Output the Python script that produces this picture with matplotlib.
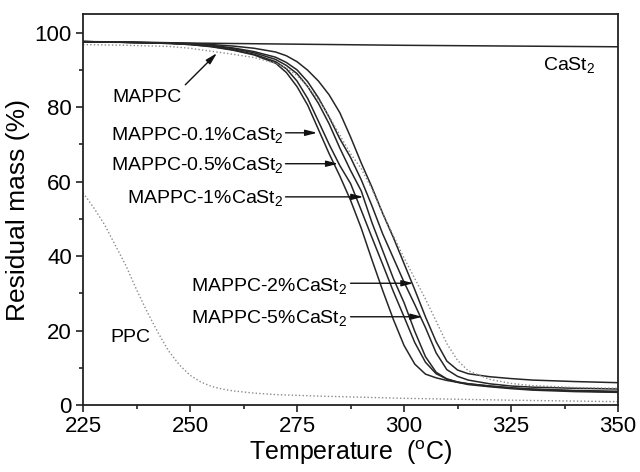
import matplotlib
matplotlib.use("Agg")
import matplotlib.pyplot as plt

plt.rcParams['font.family'] = ['Liberation Sans', 'DejaVu Sans']
plt.rcParams['mathtext.fontset'] = 'custom'
plt.rcParams['mathtext.rm'] = 'Liberation Sans'
plt.rcParams['mathtext.it'] = 'Liberation Sans:italic'
plt.rcParams['mathtext.default'] = 'regular'

# ---- data ----
temp = [225, 235, 245, 250, 255, 260, 265, 270, 272.5, 275, 277.5, 280, 282.5, 285,
        287.5, 290, 292.5, 295, 297.5, 300, 302.5, 305, 307.5, 310, 312.5, 315,
        320, 325, 330, 340, 350]

mappc_01 = [97.6, 97.4, 97.1, 96.8, 96.2, 95.3, 94.0, 91.8, 89.3, 85.5, 80.5, 74.0, 67.5, 61.5,
            55.0, 47.5, 39.0, 30.8, 23.0, 16.0, 11.0, 8.3, 7.3, 6.6, 6.1, 5.7,
            5.1, 4.6, 4.2, 3.8, 3.5]
mappc_05 = [97.6, 97.4, 97.1, 96.8, 96.3, 95.4, 94.2, 92.2, 90.3, 87.0, 82.3, 76.2, 70.0, 64.3,
            59.5, 52.3, 45.0, 37.8, 30.5, 23.7, 16.8, 11.5, 8.4, 7.0, 6.2, 5.7,
            5.1, 4.6, 4.3, 3.9, 3.7]
mappc_1 = [97.6, 97.4, 97.2, 96.9, 96.5, 95.7, 94.6, 92.8, 91.2, 89.0, 85.5, 81.0, 75.5, 69.0,
           63.0, 57.5, 49.0, 41.5, 34.0, 27.5, 19.8, 13.0, 8.8, 7.0, 6.1, 5.5,
           4.9, 4.4, 4.0, 3.6, 3.4]
mappc_2 = [97.6, 97.4, 97.2, 97.0, 96.6, 95.9, 94.9, 93.4, 92.0, 90.0, 86.8, 82.5, 77.3, 71.5,
           66.5, 60.5, 53.5, 46.0, 39.5, 33.0, 27.0, 20.8, 14.0, 9.5, 7.7, 6.7,
           5.7, 5.1, 4.8, 4.5, 4.3]
mappc_5 = [97.6, 97.5, 97.3, 97.1, 96.8, 96.4, 95.8, 94.8, 93.8, 92.2, 89.9, 87.0, 83.3, 78.5,
           72.0, 65.0, 58.5, 51.5, 45.0, 38.0, 31.0, 23.7, 17.0, 11.8, 9.4, 8.4,
           7.6, 7.1, 6.7, 6.3, 6.0]
mappc = [96.8, 96.6, 96.3, 95.8, 95.0, 94.2, 93.3, 91.8, 90.5, 88.5, 85.5, 82.0, 77.5, 72.5,
         67.5, 63.5, 58.0, 51.5, 45.5, 39.5, 34.0, 28.5, 22.5, 16.5, 12.0, 9.2,
         6.9, 5.8, 5.2, 4.7, 4.5]

casta_temp = [225, 250, 275, 300, 325, 350]
casta = [97.5, 97.2, 96.9, 96.6, 96.4, 96.2]

ppc_temp = [225, 227.5, 230, 232.5, 235, 237.5, 240, 242.5, 245, 247.5, 250, 252.5,
            255, 257.5, 260, 265, 270, 280, 290, 300, 325, 350]
ppc = [57, 53, 48.5, 43, 37.5, 31, 25, 19.5, 14.5, 10.8, 8.0, 6.2,
       5.0, 4.3, 3.8, 3.2, 2.8, 2.4, 2.1, 1.8, 1.3, 0.9]

# ---- figure ----
fig = plt.figure(figsize=(6.4, 4.72), dpi=100)
ax = fig.add_axes([0.1297, 0.1419, 0.836, 0.8284])

solid_kw = dict(color='#262626', lw=1.1)
for s in (mappc_01, mappc_05, mappc_1, mappc_2, mappc_5):
    ax.plot(temp, s, **solid_kw)
ax.plot(casta_temp, casta, **solid_kw)
dot_kw = dict(color='#8a8a8a', lw=1.0, linestyle=(0, (1, 1.6)))
ax.plot(temp, mappc, **dot_kw)
ax.plot(ppc_temp, ppc, **dot_kw)

ax.set_xlim(225, 350)
ax.set_ylim(0, 105)
ax.set_xticks([225, 250, 275, 300, 325, 350])
ax.set_xticks([237.5, 262.5, 287.5, 312.5, 337.5], minor=True)
ax.set_yticks([0, 20, 40, 60, 80, 100])
ax.set_yticks([10, 30, 50, 70, 90], minor=True)
ax.tick_params(which='major', direction='out', length=5, width=1.2, labelsize=16,
               color='#222222', pad=3)
ax.tick_params(which='minor', direction='out', length=3, width=1.2, color='#222222')
for sp in ax.spines.values():
    sp.set_linewidth(1.3)
    sp.set_color('#222222')

ax.set_xlabel('Temperature  ($^{o}$C)', fontsize=18, labelpad=1)
ax.set_ylabel('Residual mass (%)', fontsize=19, labelpad=3)

fs = 14
arrow_kw = dict(arrowstyle='-|>,head_length=0.7,head_width=0.18', color='#111111',
                lw=1.0, shrinkA=0, shrinkB=0)

ax.text(231.9, 81.5, 'MAPPC', fontsize=fs, ha='left', va='baseline')
ax.annotate('', xy=(256.3, 94.5), xytext=(248.9, 86.0), arrowprops=arrow_kw)

ax.text(332.5, 90.1, 'CaSt$_2$', fontsize=fs, ha='left', va='baseline')
ax.text(231.4, 16.9, 'PPC', fontsize=fs, ha='left', va='baseline')

labels = ['MAPPC-0.1%CaSt$_2$', 'MAPPC-0.5%CaSt$_2$', 'MAPPC-1%CaSt$_2$',
          'MAPPC-2%CaSt$_2$', 'MAPPC-5%CaSt$_2$']
text_pos = [(271.8, 71.2), (271.8, 63.2), (271.8, 54.3), (286.8, 30.6), (286.8, 22.0)]
arrow_from = [(272.3, 73.1), (272.3, 64.8), (272.3, 55.9), (287.5, 32.7), (287.5, 23.7)]
arrow_to = [(279.7, 73.1), (284.6, 64.8), (290.5, 55.9), (302.2, 32.7), (304.3, 23.7)]
for lab, tp, af, at in zip(labels, text_pos, arrow_from, arrow_to):
    ax.text(tp[0], tp[1], lab, fontsize=fs, ha='right', va='baseline')
    ax.annotate('', xy=at, xytext=af, arrowprops=arrow_kw)

fig.savefig('out.png', dpi=100)
